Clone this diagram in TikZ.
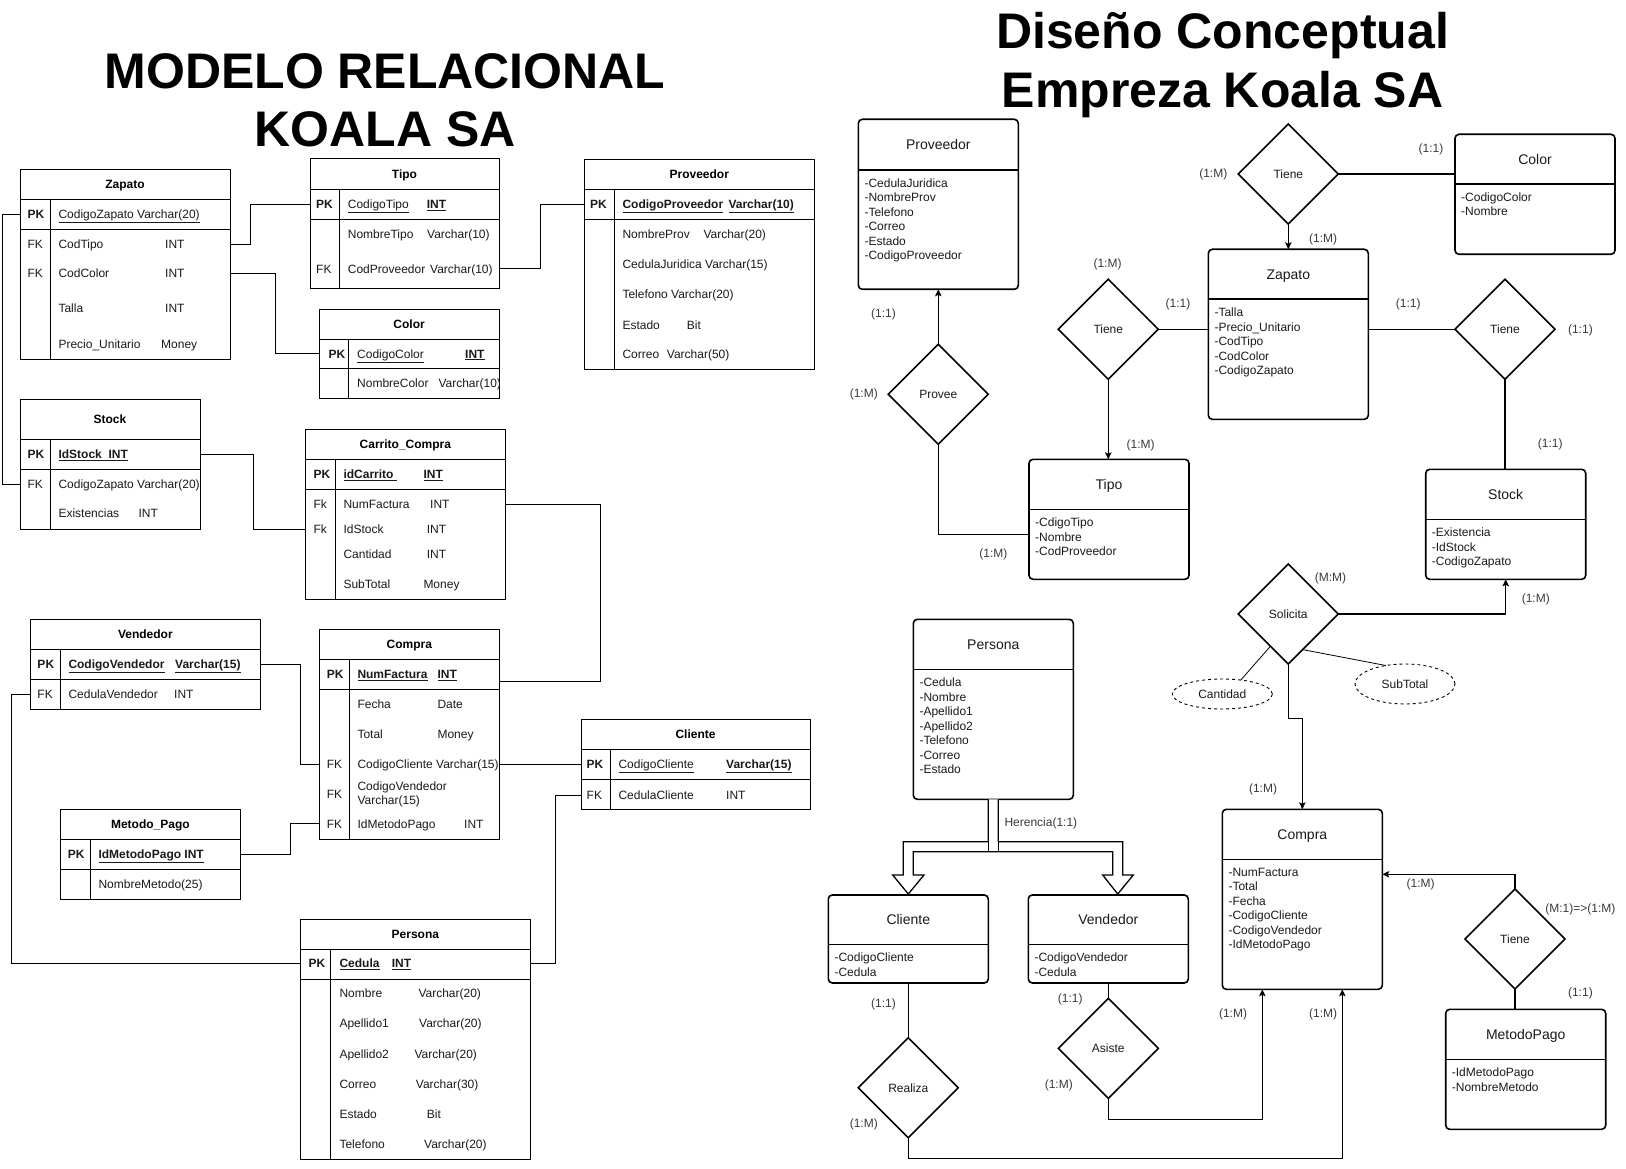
\documentclass[tikz,border=0pt]{standalone}
\usepackage{fontspec}
\setmainfont{Liberation Sans}
\usetikzlibrary{shapes.geometric,arrows.meta,calc}
\definecolor{txt}{HTML}{1A1A1A}
\definecolor{lbl}{HTML}{3A3A3A}
\tikzset{
  tblbox/.style={draw=black, line width=1pt, rectangle, inner sep=0, outer sep=0, fill=white},
  tblline/.style={draw=black, line width=1pt},
  tbltitle/.style={font=\fontsize{12}{14}\selectfont\bfseries, inner sep=0, text=black, text height=8.6pt, text depth=0pt},
  rt/.style={anchor=west, inner sep=0, font=\fontsize{12}{14}\selectfont, text=txt, text height=8.6pt, text depth=0pt},
  rtwo/.style={anchor=west, inner sep=0, align=left, font=\fontsize{12}{13.7}\selectfont, text=txt},
  rel/.style={draw=black, line width=1pt},
  entbox/.style={draw=black, line width=1.6pt, rectangle, rounded corners=4pt, inner sep=0, outer sep=0, fill=white},
  entline/.style={draw=black, line width=1.6pt},
  enttitle/.style={font=\fontsize{14}{16}\selectfont, inner sep=0, text=txt, text height=10pt, text depth=0pt},
  entattr/.style={anchor=north west, align=left, inner sep=0, font=\fontsize{12}{14.5}\selectfont, text=txt},
  relship/.style={diamond, draw=black, line width=1.6pt, minimum width=100pt, minimum height=100pt, inner sep=0, outer sep=0, fill=white, font=\fontsize{12}{14}\selectfont, text=txt},
  attrell/.style={ellipse, draw=black, dashed, line width=0.9pt, inner sep=0, outer sep=0, minimum width=100pt, fill=white, font=\fontsize{12}{14}\selectfont, text=txt},
  card/.style={inner sep=0, font=\fontsize{12}{14}\selectfont, text=lbl, text height=8.6pt, text depth=0pt},
  conn/.style={draw=black, line width=1.1pt},
  arr/.style={-{Stealth[length=7pt,width=6.5pt,inset=1.5pt]}},
  bigtitle/.style={inner sep=0, font=\fontsize{50}{58}\selectfont\bfseries, text=black, text height=36pt, text depth=0pt},
  inh/.style={draw=black, line width=1.3pt, fill=white, line join=miter},
}
% relational table: name, x1, y1, x2, y2, header bottom, pk bottom, key divider x, title
\newcommand{\rtab}[9]{%
  \node[tblbox, minimum width={#4pt-#2pt}, minimum height={#5pt-#3pt}] (#1) at ({(#2+#4)/2},{(#3+#5)/2}) {};
  \draw[tblline] (#2,#6) -- (#4,#6) (#2,#7) -- (#4,#7) (#8,#6) -- (#8,#5);
  \node[tbltitle] (#1-t) at ({(#2+#4)/2},{(#3+#6)/2}) {#9};
}
% ER entity: name, x1, y1, x2, y2, header y, title, attributes
\newcommand{\erent}[8]{%
  \node[entbox, minimum width={#4pt-#2pt}, minimum height={#5pt-#3pt}] (#1) at ({(#2+#4)/2},{(#3+#5)/2}) {};
  \draw[entline] (#2,#6) -- (#4,#6);
  \node[enttitle] (#1-t) at ({(#2+#4)/2},{(#3+#6)/2}) {#7};
  \node[entattr] (#1-a) at ({#2+6},{#6+8.5}) {#8};
}
\begin{document}
\begin{tikzpicture}[x=1pt,y=-1pt]
\useasboundingbox (0,0) rectangle (1626,1169);
\fill[white] (0,0) rectangle (1626,1169);

% ---------- titles ----------
\node[bigtitle] (t1) at (385,70.5) {MODELO RELACIONAL};
\node[bigtitle] (t2) at (385,128.6) {KOALA SA};
\node[bigtitle] (t3) at (1222.6,31) {Diseño Conceptual};
\node[bigtitle] (t4) at (1222.6,89.2) {Empreza Koala SA};

% ---------- relational model ----------
\rtab{zap}{20}{169.3}{230}{359.3}{199.3}{229.3}{50.7}{Zapato}
\node[rt] (zap-k1) at (27.3,214.3) {\textbf{PK}};
\node[rt] (zap-f1) at (58.3,214.3) {\underline{CodigoZapato Varchar(20)}};
\node[rt] (zap-k2) at (27.3,244.3) {FK};
\node[rt] (zap-f2) at (58.3,244.3) {CodTipo};
\node[rt] (zap-y2) at (165,244.3) {INT};
\node[rt] (zap-k3) at (27.3,273.3) {FK};
\node[rt] (zap-f3) at (58.3,273.3) {CodColor};
\node[rt] (zap-y3) at (165,273.3) {INT};
\node[rt] (zap-f4) at (58.3,308.3) {Talla};
\node[rt] (zap-y4) at (165,308.3) {INT};
\node[rt] (zap-f5) at (58.3,344.3) {Precio\_Unitario};
\node[rt] (zap-y5) at (161,344.3) {Money};

\rtab{tipo}{310}{158.7}{499}{288.3}{189.3}{219.3}{339.3}{Tipo}
\node[rt] (tipo-k1) at (316,204.3) {\textbf{PK}};
\node[rt] (tipo-f1) at (347.7,204.3) {\underline{CodigoTipo}};
\node[rt] (tipo-y1) at (426.7,204.3) {\textbf{\underline{INT}}};
\node[rt] (tipo-f2) at (347.7,234) {NombreTipo};
\node[rt] (tipo-y2) at (427,234) {Varchar(10)};
\node[rt] (tipo-k3) at (316,269) {FK};
\node[rt] (tipo-f3) at (347.7,269) {CodProveedor};
\node[rt] (tipo-y3) at (430,269) {Varchar(10)};

\rtab{color}{319.3}{309.3}{499}{398.3}{339.3}{368.3}{348.3}{Color}
\node[rt] (color-k1) at (328.3,353.8) {\textbf{PK}};
\node[rt] (color-f1) at (357,353.8) {\underline{CodigoColor}};
\node[rt] (color-y1) at (465,353.8) {\textbf{\underline{INT}}};
\node[rt] (color-f2) at (357,383.3) {NombreColor};
\node[rt] (color-y2) at (438.3,383.3) {Varchar(10)};

\rtab{prov}{584.3}{159.3}{814.3}{369.3}{189.3}{219.3}{614.3}{Proveedor}
\node[rt] (prov-k1) at (590,204.3) {\textbf{PK}};
\node[rt] (prov-f1) at (622.3,204.3) {\textbf{\underline{CodigoProveedor}}};
\node[rt] (prov-y1) at (728.3,204.3) {\textbf{\underline{Varchar(10)}}};
\node[rt] (prov-f2) at (622.3,234.3) {NombreProv};
\node[rt] (prov-y2) at (703.3,234.3) {Varchar(20)};
\node[rt] (prov-f3) at (622.3,264.3) {CedulaJuridica Varchar(15)};
\node[rt] (prov-f4) at (622.3,294.3) {Telefono Varchar(20)};
\node[rt] (prov-f5) at (622.3,325) {Estado};
\node[rt] (prov-y5) at (686.7,325) {Bit};
\node[rt] (prov-f6) at (622.3,354) {Correo};
\node[rt] (prov-y6) at (666.7,354) {Varchar(50)};

\rtab{stock}{20}{399.3}{200}{529.3}{439.3}{469.3}{50.7}{Stock}
\node[rt] (stock-k1) at (27.3,454.3) {\textbf{PK}};
\node[rt] (stock-f1) at (58.3,454.3) {\textbf{\underline{IdStock\ \ INT}}};
\node[rt] (stock-k2) at (27.3,484.3) {FK};
\node[rt] (stock-f2) at (58.3,484.3) {CodigoZapato Varchar(20)};
\node[rt] (stock-f3) at (58.3,513.3) {Existencias};
\node[rt] (stock-y3) at (138.3,513.3) {INT};

\rtab{carrito}{305}{429.3}{505.7}{599.3}{459.3}{489.3}{335}{Carrito\_Compra}
\node[rt] (carrito-k1) at (313.3,474.3) {\textbf{PK}};
\node[rt] (carrito-f1) at (343.3,474.3) {\textbf{\underline{idCarrito\ }}};
\node[rt] (carrito-y1) at (423.3,474.3) {\textbf{\underline{INT}}};
\node[rt] (carrito-k2) at (313.3,504.3) {Fk};
\node[rt] (carrito-f2) at (343.3,504.3) {NumFactura};
\node[rt] (carrito-y2) at (430,504.3) {INT};
\node[rt] (carrito-k3) at (313.3,529.3) {Fk};
\node[rt] (carrito-f3) at (343.3,529.3) {IdStock};
\node[rt] (carrito-y3) at (426.7,529.3) {INT};
\node[rt] (carrito-f4) at (343.3,554) {Cantidad};
\node[rt] (carrito-y4) at (426.7,554) {INT};
\node[rt] (carrito-f5) at (343.3,584.3) {SubTotal};
\node[rt] (carrito-y5) at (423.3,584.3) {Money};

\rtab{vend}{30.7}{619.3}{260}{709.3}{649.3}{679.3}{60.7}{Vendedor}
\node[rt] (vend-k1) at (37.3,664.3) {\textbf{PK}};
\node[rt] (vend-f1) at (68.3,664.3) {\textbf{\underline{CodigoVendedor}}};
\node[rt] (vend-y1) at (175,664.3) {\textbf{\underline{Varchar(15)}}};
\node[rt] (vend-k2) at (37.3,694.3) {FK};
\node[rt] (vend-f2) at (68.3,694.3) {CedulaVendedor};
\node[rt] (vend-y2) at (174,694.3) {INT};

\rtab{compra}{319.3}{629.3}{499.3}{839.3}{659.3}{689.3}{349.3}{Compra}
\node[rt] (compra-k1) at (326.7,674) {\textbf{PK}};
\node[rt] (compra-f1) at (357.3,674) {\textbf{\underline{NumFactura}}};
\node[rt] (compra-y1) at (437.3,674) {\textbf{\underline{INT}}};
\node[rt] (compra-f2) at (357.3,703.7) {Fecha};
\node[rt] (compra-y2) at (437.3,703.7) {Date};
\node[rt] (compra-f3) at (357.3,734) {Total};
\node[rt] (compra-y3) at (437.3,734) {Money};
\node[rt] (compra-k4) at (326.7,764) {FK};
\node[rt] (compra-f4) at (357.3,764) {CodigoCliente Varchar(15)};
\node[rt] (compra-k5) at (326.7,794.3) {FK};
\node[rtwo] (compra-f5) at (357.3,794.3) {CodigoVendedor\\Varchar(15)};
\node[rt] (compra-k6) at (326.7,823.7) {FK};
\node[rt] (compra-f6) at (357.3,823.7) {IdMetodoPago};
\node[rt] (compra-y6) at (464,823.7) {INT};

\rtab{metodo}{60.7}{809.3}{240}{899.3}{839.3}{869.3}{90.7}{Metodo\_Pago}
\node[rt] (metodo-k1) at (67.7,854) {\textbf{PK}};
\node[rt] (metodo-f1) at (98.3,854) {\textbf{\underline{IdMetodoPago INT}}};
\node[rt] (metodo-f2) at (98.3,884) {NombreMetodo(25)};

\rtab{cliente}{581}{719.3}{810}{809.3}{749.3}{779.3}{610.7}{Cliente}
\node[rt] (cliente-k1) at (586.5,764.3) {\textbf{PK}};
\node[rt] (cliente-f1) at (618.3,764.3) {\underline{CodigoCliente}};
\node[rt] (cliente-y1) at (726,764.3) {\textbf{\underline{Varchar(15)}}};
\node[rt] (cliente-k2) at (586.5,795) {FK};
\node[rt] (cliente-f2) at (618.3,795) {CedulaCliente};
\node[rt] (cliente-y2) at (726,795) {INT};

\rtab{persona}{300.7}{919.3}{530}{1159.3}{949.3}{979.3}{330.7}{Persona}
\node[rt] (persona-k1) at (308.3,963.3) {\textbf{PK}};
\node[rt] (persona-f1) at (339.3,963.3) {\textbf{\underline{Cedula}}};
\node[rt] (persona-y1) at (391.7,963.3) {\textbf{\underline{INT}}};
\node[rt] (persona-f2) at (339.3,993.3) {Nombre};
\node[rt] (persona-y2) at (418.3,993.3) {Varchar(20)};
\node[rt] (persona-f3) at (339.3,1023.3) {Apellido1};
\node[rt] (persona-y3) at (419,1023.3) {Varchar(20)};
\node[rt] (persona-f4) at (339.3,1054) {Apellido2};
\node[rt] (persona-y4) at (414.3,1054) {Varchar(20)};
\node[rt] (persona-f5) at (339.3,1084.5) {Correo};
\node[rt] (persona-y5) at (415.7,1084.5) {Varchar(30)};
\node[rt] (persona-f6) at (339.3,1114) {Estado};
\node[rt] (persona-y6) at (426.7,1114) {Bit};
\node[rt] (persona-f7) at (339.3,1144.5) {Telefono};
\node[rt] (persona-y7) at (424,1144.5) {Varchar(20)};

% relational connectors
\draw[rel] (zap.east |- zap-f2) -- ++(20,0) |- (tipo.west |- tipo-f1);
\draw[rel] (zap.east |- zap-f3) -- ++(45,0) |- (color.west |- color-f1);
\draw[rel] (tipo.east |- tipo-f3) -- ++(41,0) |- (prov.west |- prov-f1);
\draw[rel] (zap.west |- zap-f1) -- ++(-17.3,0) |- (stock.west |- stock-f2);
\draw[rel] (stock.east |- stock-f1) -- ++(53.3,0) |- (carrito.west |- carrito-f3);
\draw[rel] (carrito.east |- carrito-f2) -- ++(94.7,0) |- ($(compra.east |- compra-f1)+(0,7)$);
\draw[rel] (vend.east |- vend-f1) -- ++(40.7,0) |- (compra.west |- compra-f4);
\draw[rel] (vend.west |- vend-f2) -- ++(-19,0) |- (persona.west |- persona-f1);
\draw[rel] (metodo.east |- metodo-f1) -- ++(50.7,0) |- (compra.west |- compra-f6);
\draw[rel] (compra.east |- compra-f4) -- (cliente.west |- compra-f4);
\draw[rel] (cliente.west |- cliente-f2) -- ++(-26,0) |- (persona.east |- persona-f1);

% ---------- conceptual design ----------
\erent{eprov}{858.3}{119.3}{1018.3}{289.3}{170}{Proveedor}{-CedulaJuridica\\-NombreProv\\-Telefono\\-Correo\\-Estado\\-CodigoProveedor}
\erent{etipo}{1029}{459.3}{1189}{579.3}{509.3}{Tipo}{-CdigoTipo\\-Nombre\\-CodProveedor}
\erent{ezap}{1208.3}{249.3}{1368.3}{419.3}{299.3}{Zapato}{-Talla\\-Precio\_Unitario\\-CodTipo\\-CodColor\\-CodigoZapato}
\erent{ecolor}{1455}{134.3}{1615}{254.3}{184}{Color}{-CodigoColor\\-Nombre}
\erent{estock}{1425.7}{469.3}{1585.7}{579.3}{519.3}{Stock}{-Existencia\\-IdStock\\-CodigoZapato}
\erent{epers}{913.3}{619.3}{1073.3}{799.3}{669.3}{Persona}{-Cedula\\-Nombre\\-Apellido1\\-Apellido2\\-Telefono\\-Correo\\-Estado}
\erent{ecli}{828.3}{895}{988.3}{983}{944.3}{Cliente}{-CodigoCliente\\-Cedula}
\erent{evend}{1028.3}{895}{1188.3}{983}{944.3}{Vendedor}{-CodigoVendedor\\-Cedula}
\erent{ecompra}{1222.3}{809.3}{1382.3}{989.3}{859.3}{Compra}{-NumFactura\\-Total\\-Fecha\\-CodigoCliente\\-CodigoVendedor\\-IdMetodoPago}
\erent{emetodo}{1445.7}{1009.3}{1605.7}{1129.3}{1059.3}{MetodoPago}{-IdMetodoPago\\-NombreMetodo}

\node[relship] (provee) at (938.3,394.3) {Provee};
\node[relship] (tieneL) at (1108.3,329.3) {Tiene};
\node[relship] (tieneT) at (1288.3,174) {Tiene};
\node[relship] (tieneR) at (1505,329.3) {Tiene};
\node[relship] (solicita) at (1288.3,614) {Solicita};
\node[relship] (tieneB) at (1515,939) {Tiene};
\node[relship] (realiza) at (908.3,1087.8) {Realiza};
\node[relship] (asiste) at (1108.3,1048.4) {Asiste};

\node[attrell, minimum height=30pt] (cant) at (1222.3,694) {Cantidad};
\node[attrell, minimum height=40pt] (subt) at (1405,684) {SubTotal};

\draw[conn,arr] (provee.north) -- (eprov.south);
\draw[conn] (provee.south) |- ([yshift=-15pt]etipo.west);
\draw[conn,arr] (tieneL.south) -- (tieneL.south |- etipo.north);
\draw[conn] (tieneL.east) -- (tieneL.east -| ezap.west);
\draw[conn,arr] (tieneT.south) -- (ezap.north);
\draw[conn] (tieneT.east) -- (tieneT.east -| ecolor.west);
\draw[conn] (tieneR.west -| ezap.east) -- (tieneR.west);
\draw[conn] (tieneR.south) -- (tieneR.south |- estock.north);
\draw[conn,arr] (solicita.east) -| (estock.south);
\draw[conn, line width=0.8pt] (cant.37) -- (solicita.-119);
\draw[conn, line width=0.8pt] (solicita.-68) -- (subt.136);
\draw[conn,arr] (solicita.south) -- ++(0,54.3) -| (ecompra.north);
\draw[conn,arr] (tieneB.north) |- ([yshift=25pt]ecompra.east);
\draw[conn] (tieneB.south) -- (tieneB.south |- emetodo.north);
\draw[conn] (ecli.south) -- (realiza.north);
\draw[conn,arr] (realiza.south) -- ++(0,20.5) -| ([xshift=40pt]ecompra.south);
\draw[conn] (evend.south) -- (asiste.north);
\draw[conn,arr] (asiste.south) -- ++(0,21) -| ([xshift=-40pt]ecompra.south);

% inheritance (hollow block arrows)
\draw[inh] (988.3,799.3) -- (988.3,841.7) -- (903.3,841.7) -- (903.3,875) -- (892.7,875) -- (908.3,894) -- (924,875) -- (913.3,875) -- (913.3,851.7) -- (1112.7,851.7) -- (1112.7,875) -- (1102.7,875) -- (1117.7,894) -- (1133.3,875) -- (1122.7,875) -- (1122.7,841.7) -- (998.3,841.7) -- (998.3,799.3);
\draw[inh] (988.3,841.7) -- (988.3,851.7) (998.3,841.7) -- (998.3,851.7);
\node[card, anchor=west] (herencia) at (1004.3,821.7) {Herencia(1:1)};

% cardinalities
\node[card] (c01) at (883.5,313.2) {(1:1)};
\node[card] (c02) at (863.8,393) {(1:M)};
\node[card] (c03) at (993.4,552.7) {(1:M)};
\node[card] (c04) at (1107.5,263.4) {(1:M)};
\node[card] (c05) at (1178,302.8) {(1:1)};
\node[card] (c06) at (1140.7,443.8) {(1:M)};
\node[card] (c07) at (1213.3,173.2) {(1:M)};
\node[card] (c08) at (1323.2,238.5) {(1:M)};
\node[card] (c09) at (1431,148.3) {(1:1)};
\node[card] (c10) at (1408.2,302.8) {(1:1)};
\node[card] (c11) at (1580.4,328.7) {(1:1)};
\node[card] (c12) at (1550.3,442.8) {(1:1)};
\node[card] (c13) at (1330.5,577.6) {(M:M)};
\node[card] (c14) at (1535.8,598.3) {(1:M)};
\node[card] (c15) at (1263,788.1) {(1:M)};
\node[card] (c16) at (1420.7,883.5) {(1:M)};
\node[card] (c17) at (1580.4,908.4) {(M:1)=>(1:M)};
\node[card] (c18) at (1580.4,992.4) {(1:1)};
\node[card] (c19) at (883.5,1002.8) {(1:1)};
\node[card] (c20) at (863.8,1123.1) {(1:M)};
\node[card] (c21) at (1070.2,998.6) {(1:1)};
\node[card] (c22) at (1058.8,1083.7) {(1:M)};
\node[card] (c23) at (1233,1013.1) {(1:M)};
\node[card] (c24) at (1323.2,1013.1) {(1:M)};
\end{tikzpicture}
\end{document}
